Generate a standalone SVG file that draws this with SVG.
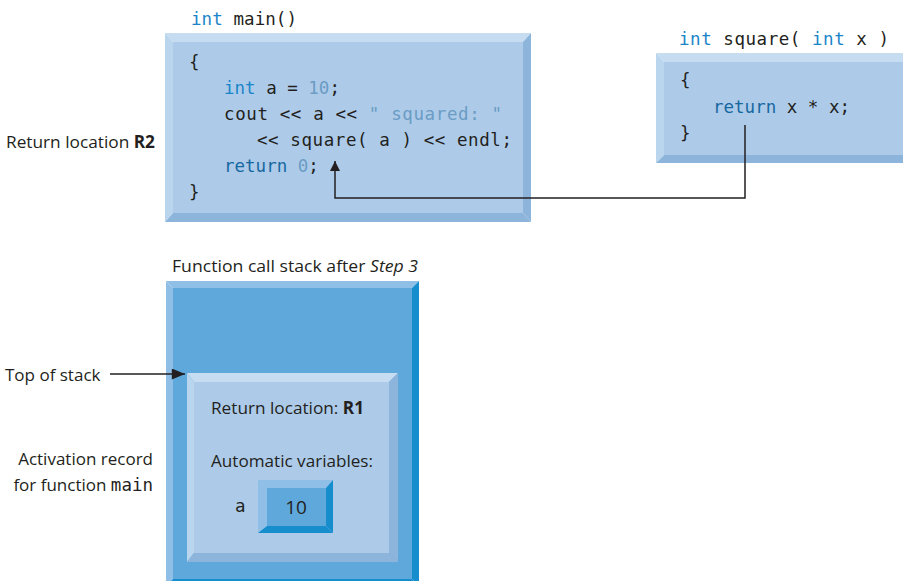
<svg xmlns="http://www.w3.org/2000/svg" width="903" height="581" viewBox="0 0 903 581">
<style>
.lt{fill:#c5dcf1}.ll{fill:#bad5ee}.lf{fill:#adcbe9}.ld{fill:#8db5dc}
.dt{fill:#8fbfe6}.df{fill:#5fa8dc}.dd{fill:#168dcd}
.code{font-family:"DejaVu Sans Mono","Liberation Mono",monospace;font-size:17.5px;fill:#231f20}
.kw{fill:#1a84c8}.kw2{fill:#17679f}.lit{fill:#6a9cc4}
.lbl{font-family:"Open Sans","Liberation Sans",sans-serif;font-size:17px;fill:#231f20}
.conn{fill:none;stroke:#231f20;stroke-width:1.5}
</style>
<defs>
<marker id="ah" viewBox="0 0 10 10" refX="10" refY="5" markerWidth="10" markerHeight="10" markerUnits="userSpaceOnUse" orient="auto">
<path d="M0,0 L10,5 L0,10 z" fill="#231f20"/>
</marker>
<marker id="ah2" viewBox="0 0 12 10" refX="12" refY="5" markerWidth="14" markerHeight="11" markerUnits="userSpaceOnUse" orient="auto">
<path d="M0,0 L12,5 L0,10 z" fill="#231f20"/>
</marker>
</defs>

<g id="main-box">
<polygon class="lt" points="165,33 531,33 523,42 173,42"/>
<polygon class="ll" points="165,33 173,42 173,213 165,222"/>
<polygon class="ld" points="531,33 531,222 523,213 523,42"/>
<polygon class="ld" points="165,222 531,222 523,213 173,213"/>
<rect class="lf" x="173" y="42" width="350" height="171"/>
<text class="code" x="191" y="25" textLength="106" lengthAdjust="spacing"><tspan class="kw">int</tspan> main()</text>
<text class="code" x="189" y="68">{</text>
<text class="code" x="224" y="94"><tspan class="kw">int</tspan> a = <tspan class="lit">10</tspan>;</text>
<text class="code" x="224" y="120" textLength="278" lengthAdjust="spacing">cout &lt;&lt; a &lt;&lt; <tspan class="lit">" squared: "</tspan></text>
<text class="code" x="257" y="146" textLength="255" lengthAdjust="spacing">&lt;&lt; square( a ) &lt;&lt; endl;</text>
<text class="code" x="224" y="172"><tspan class="kw2">return</tspan> <tspan class="lit">0</tspan>;</text>
<text class="code" x="189" y="198">}</text>
</g>

<text class="lbl" x="6" y="148" textLength="149" lengthAdjust="spacingAndGlyphs">Return location <tspan font-weight="bold">R2</tspan></text>

<g id="square-box">
<polygon class="lt" points="656,53 910,53 910,62 664,62"/>
<polygon class="ll" points="656,53 664,62 664,155 656,163"/>
<polygon class="ld" points="656,163 910,163 910,155 664,155"/>
<rect class="lf" x="664" y="62" width="246" height="93"/>
<text class="code" x="679" y="45" textLength="210" lengthAdjust="spacing"><tspan class="kw">int</tspan> square( <tspan class="kw">int</tspan> x )</text>
<text class="code" x="680" y="86">{</text>
<text class="code" x="713" y="113"><tspan class="kw2">return</tspan> x * x;</text>
<text class="code" x="680" y="139">}</text>
</g>

<g id="stack-box">
<polygon class="dt" points="166,281 419,281 412,288 173,288"/>
<polygon class="dt" points="166,281 173,288 173,579 166,586"/>
<polygon class="dd" points="419,281 419,586 412,579 412,288"/>
<polygon class="dd" points="166,586 419,586 412,579 173,579"/>
<rect class="df" x="173" y="288" width="239" height="291"/>
<text class="lbl" x="172" y="272" textLength="246" lengthAdjust="spacingAndGlyphs">Function call stack after <tspan font-style="italic">Step 3</tspan></text>
</g>

<g id="activation-record">
<polygon class="lt" points="187,373 398,373 389,382 194,382"/>
<polygon class="ll" points="187,373 194,382 194,553 187,562"/>
<polygon class="ld" points="398,373 398,562 389,553 389,382"/>
<polygon class="ld" points="187,562 398,562 389,553 194,553"/>
<rect class="lf" x="194" y="382" width="195" height="171"/>
<text class="lbl" x="211" y="414" textLength="153" lengthAdjust="spacingAndGlyphs">Return location: <tspan font-weight="bold">R1</tspan></text>
<text class="lbl" x="211" y="467" textLength="162" lengthAdjust="spacingAndGlyphs">Automatic variables:</text>
<text class="code" x="235" y="512">a</text>
</g>

<g id="value-a">
<polygon class="dt" points="258,480 333,480 326,488 267,488"/>
<polygon class="dt" points="258,480 267,488 267,526 258,533"/>
<polygon class="dd" points="333,480 333,533 326,526 326,488"/>
<polygon class="dd" points="258,533 333,533 326,526 267,526"/>
<rect class="df" x="267" y="488" width="59" height="38"/>
<text class="lbl" x="296" y="514" text-anchor="middle" style="font-size:19px">10</text>
</g>

<text class="lbl" x="5" y="381">Top of stack</text>
<text class="lbl" x="153" y="465" text-anchor="end">Activation record</text>
<text class="lbl" x="153" y="491" text-anchor="end">for function <tspan class="code" style="font-size:17.5px">main</tspan></text>

<g id="connectors">
<polyline class="conn" points="745,125 745,198 335,198 335,161" marker-end="url(#ah)"/>
<line class="conn" x1="110" y1="374" x2="185" y2="374" marker-end="url(#ah2)"/>
</g>
</svg>
